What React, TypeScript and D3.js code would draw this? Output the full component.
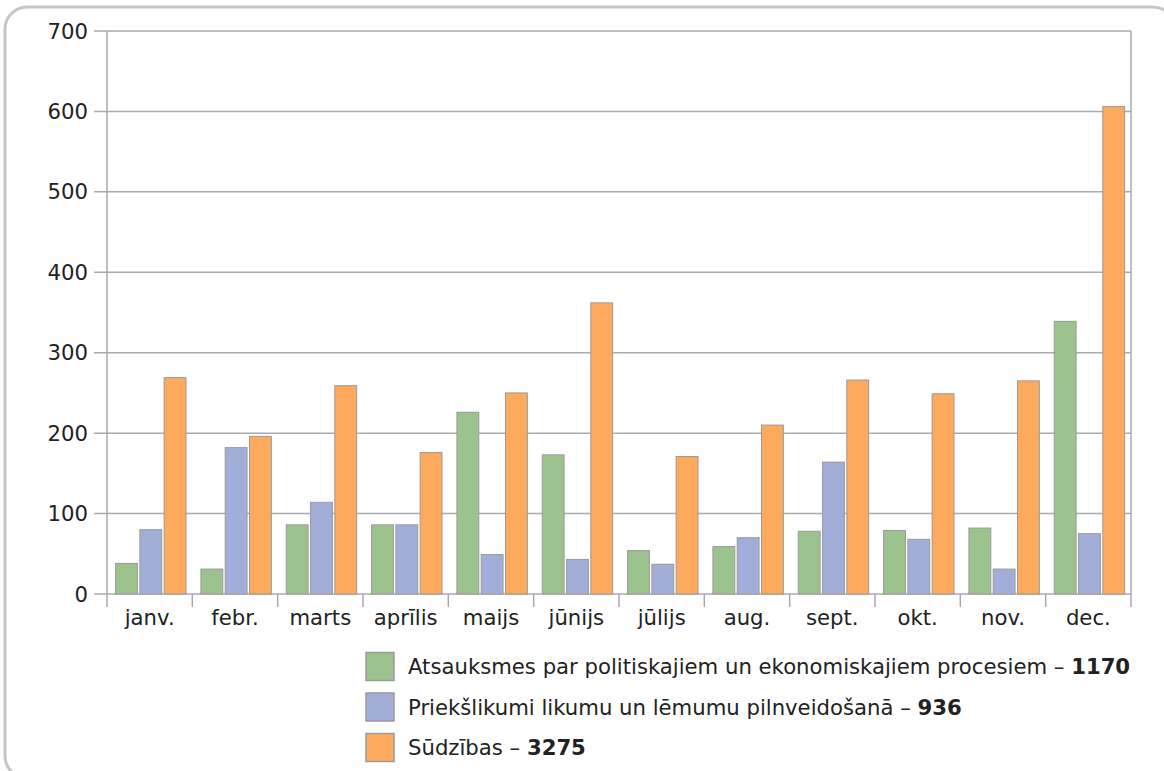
import React from "react";
import * as d3 from "d3";

const months = ["janv.", "febr.", "marts", "aprīlis", "maijs", "jūnijs", "jūlijs", "aug.", "sept.", "okt.", "nov.", "dec."];
const atsauksmes = [38, 31, 86, 86, 226, 173, 54, 59, 78, 79, 82, 339];
const priekslikumi = [80, 182, 114, 86, 49, 43, 37, 70, 164, 68, 31, 75];
const sudzibas = [269, 196, 259, 176, 250, 362, 171, 210, 266, 249, 265, 606];
const yTicks = [0, 100, 200, 300, 400, 500, 600, 700];
const seriesNames = ["Atsauksmes par politiskajiem un ekonomiskajiem procesiem", "Priekšlikumi likumu un lēmumu pilnveidošanā", "Sūdzības"];
const seriesTotals = ["1170", "936", "3275"];
const seriesColors = ["#9cc38e", "#a3aed8", "#fdaa5f"];

const W = 1164;
const H = 771;
const FONT = "'DejaVu Sans', Verdana, sans-serif";

export default function App() {
  const left = 107, right = 1131, top = 31, bottom = 594;
  const x = d3.scaleBand<string>().domain(months).range([left, right]).padding(0);
  const y = d3.scaleLinear().domain([0, 700]).range([bottom, top]);
  const series = [atsauksmes, priekslikumi, sudzibas];
  const inner = d3.scaleBand<number>().domain([0, 1, 2]).range([8.6, 79]).paddingInner(0.1).paddingOuter(0);
  const bw = x.bandwidth();
  const boundaries = months.map((m) => x(m) as number).concat([right]);
  const gridColor = "#a9a9b1";
  const fs = 21.2;

  return (
    <div style={{ position: "absolute", left: 0, top: 0, width: W, height: H, background: "#fff" }}>
      <svg width={W} height={H} style={{ display: "block" }}>
        <rect x={5} y={7} width={1170} height={771} rx={22} ry={22} fill="none" stroke="#c6c6c6" strokeWidth={3} />
        {yTicks.map((t) => (
          <g key={t}>
            <line x1={94} x2={right} y1={y(t)} y2={y(t)} stroke={gridColor} strokeWidth={1.5} />
            <text x={88} y={y(t)} dy={fs * 0.36} textAnchor="end" fontFamily={FONT} fontSize={fs} fill="#222">
              {t}
            </text>
          </g>
        ))}
        <line x1={left} x2={left} y1={top} y2={bottom} stroke={gridColor} strokeWidth={1.5} />
        <line x1={right} x2={right} y1={top} y2={bottom} stroke={gridColor} strokeWidth={1.5} />
        {boundaries.map((b, i) => (
          <line key={i} x1={b} x2={b} y1={bottom} y2={607} stroke={gridColor} strokeWidth={1.5} />
        ))}
        {months.map((m, i) => (
          <g key={m}>
            {series.map((s, j) => (
              <rect
                key={j}
                x={(x(m) as number) + (inner(j) as number)}
                y={y(s[i])}
                width={inner.bandwidth()}
                height={bottom - y(s[i])}
                fill={seriesColors[j]}
                stroke="#9a9a9a"
                strokeWidth={1}
              />
            ))}
            <text x={(x(m) as number) + bw / 2} y={625} textAnchor="middle" fontFamily={FONT} fontSize={fs} fill="#222">
              {m}
            </text>
          </g>
        ))}
        {seriesNames.map((n, j) => {
          const cy = 666.5 + j * 40.5;
          return (
            <g key={n}>
              <rect x={366} y={cy - 14} width={28} height={28} fill={seriesColors[j]} stroke="#9a9a9a" strokeWidth={1.5} />
              <text x={408} y={cy} dy={fs * 0.36} fontFamily={FONT} fontSize={fs} fill="#222">
                {n} – <tspan fontWeight="bold">{seriesTotals[j]}</tspan>
              </text>
            </g>
          );
        })}
      </svg>
    </div>
  );
}
